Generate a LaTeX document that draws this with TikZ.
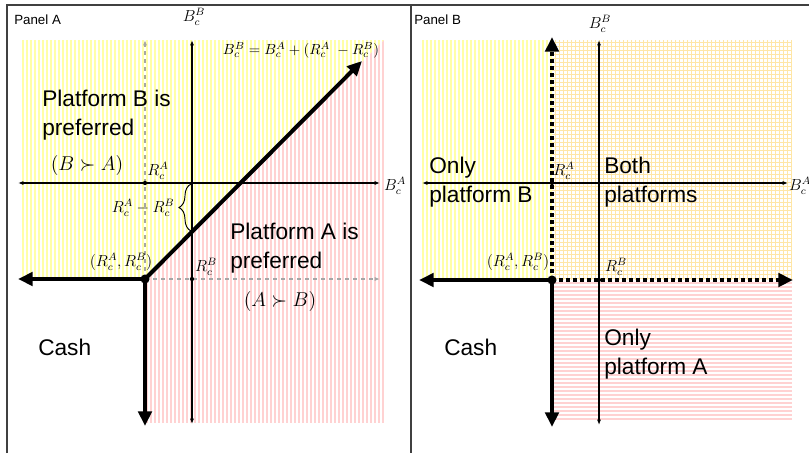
\RequirePackage{fix-cm}
\documentclass[tikz,border=0pt]{standalone}
\usepackage{amsmath, amssymb}
\usepackage{fontspec}
\setmainfont{Liberation Sans}
\usetikzlibrary{arrows.meta, decorations.pathreplacing}
\definecolor{mYellow}{HTML}{FFFFA8}
\definecolor{mPink}{HTML}{FFD2D2}
\definecolor{mGold}{HTML}{FFE6A6}
\definecolor{mGray}{HTML}{A6A6A6}
\definecolor{mFrame}{HTML}{404040}

\begin{document}
\begin{tikzpicture}[x=0.75pt, y=-0.75pt,
    ystripe/.style={mYellow, line width=1.3pt},
    pstripe/.style={mPink, line width=1.1pt},
    gstripe/.style={mGold, line width=0.7pt},
    axisline/.style={line width=0.8pt, {Latex[length=4pt,width=3pt]}-{Latex[length=4pt,width=3pt]}},
    guide/.style={mGray, line width=0.8pt, dashed, -{Latex[length=4pt,width=3pt]}},
    thickarrow/.style={line width=3pt, -{Triangle[length=11pt,width=10pt]}},
    dotarrow/.style={line width=3pt, dash pattern=on 3pt off 2.25pt, -{Triangle[length=11pt,width=10pt]}},
    frame/.style={mFrame, line width=1.2pt},
    lbl/.style={font=\fontsize{12}{14}\selectfont, inner sep=1pt},
    regiontxt/.style={font=\fontsize{17}{22}\selectfont, align=left, inner sep=0pt, anchor=west},
    prefmath/.style={font=\fontsize{15}{17}\selectfont, inner sep=0pt},
    paneltxt/.style={font=\fontsize{10}{12}\selectfont, inner sep=0pt, anchor=west}]
  \useasboundingbox (0,0) rectangle (809,453);

  % ---------------- Panel A ----------------
  \begin{scope}
    \clip (22,40) -- (384,40) -- (145,279) -- (22,279) -- cycle;
    \foreach \x in {23,27,...,383} \draw[ystripe] (\x,40) -- (\x,279);
  \end{scope}
  \begin{scope}
    \clip (145,279) -- (384,40) -- (384,423) -- (145,423) -- cycle;
    \foreach \x in {23,27,...,383} \draw[pstripe] (\x,40) -- (\x,423);
  \end{scope}

  \coordinate (kinkA) at (145,279);
  \coordinate (axAw) at (18,183);
  \coordinate (axAe) at (380,183);
  \coordinate (axAn) at (192,40);
  \coordinate (axAs) at (192,424);
  \coordinate (guideAn) at (145,40);
  \coordinate (guideAe) at (380,279);
  \coordinate (diagA) at (362,61);
  \coordinate (cashAw) at (18,279);
  \coordinate (cashAs) at (145,426);
  \coordinate (raA) at (145,183);
  \coordinate (rbA) at (192,279);
  \coordinate (braceTop) at (191,184);
  \coordinate (braceBot) at (191,231);

  \draw[guide] (kinkA) -- (guideAn);
  \draw[guide] (kinkA) -- (guideAe);
  \draw[axisline] (axAw) -- (axAe);
  \draw[axisline] (axAs) -- (axAn);
  \draw[decorate, decoration={brace, amplitude=9pt}, line width=0.7pt] (braceBot) -- (braceTop);
  \draw[thickarrow] (kinkA) -- (diagA);
  \draw[thickarrow] (kinkA) -- (cashAw);
  \draw[thickarrow] (kinkA) -- (cashAs);
  \fill (raA) circle (1.6pt);
  \fill (rbA) circle (1.6pt);
  \fill (kinkA) circle (3.4pt);

  \node[paneltxt] (panelA) at (14,20) {Panel A};
  \node[lbl] (axAylbl) at (194,17) {$B_c^B$};
  \node[lbl] (axAxlbl) at (395,186) {$B_c^A$};
  \node[font=\fontsize{11}{13}\selectfont] (lineA) at (301,50) {$B_c^B = B_c^A + (R_c^A\ - R_c^B)$};
  \node[lbl] (raAlbl) at (158,171) {$R_c^A$};
  \node[lbl] (rbAlbl) at (206,267) {$R_c^B$};
  \node[lbl] (kinkAlbl) at (121,262) {$(R_c^A,R_c^B)$};
  \node[lbl, anchor=east] (gapA) at (176,208) {$R_c^A - R_c^B$};
  \node[regiontxt] (prefB) at (42,115) {Platform B is\\preferred};
  \node[prefmath] (succB) at (87,165) {$(B \succ A)$};
  \node[regiontxt] (prefA) at (230,248) {Platform A is\\preferred};
  \node[prefmath] (succA) at (280,301) {$(A \succ B)$};
  \node[regiontxt] (cashA) at (38,347) {Cash};

  % ---------------- Panel B ----------------
  \foreach \x in {423,427,...,551} \draw[ystripe] (\x,40) -- (\x,280);
  \foreach \x in {555,559,...,791} \draw[gstripe] (\x,40) -- (\x,280);
  \foreach \y in {42,46,...,278} \draw[gstripe] (552,\y) -- (792,\y);
  \foreach \y in {283,287,...,421} \draw[pstripe] (554,\y) -- (792,\y);

  \coordinate (kinkB) at (552,280);
  \coordinate (axBw) at (422,183);
  \coordinate (axBe) at (788,183);
  \coordinate (axBn) at (599,40);
  \coordinate (axBs) at (599,425);
  \coordinate (onlyBn) at (552,37);
  \coordinate (onlyAe) at (793,280);
  \coordinate (cashBw) at (419,280);
  \coordinate (cashBs) at (552,427);
  \coordinate (raB) at (552,183);
  \coordinate (rbB) at (599,280);

  \draw[axisline] (axBw) -- (axBe);
  \draw[axisline] (axBs) -- (axBn);
  \draw[dotarrow] (kinkB) -- (onlyBn);
  \draw[dotarrow] (kinkB) -- (onlyAe);
  \draw[thickarrow] (kinkB) -- (cashBw);
  \draw[thickarrow] (kinkB) -- (cashBs);
  \fill (raB) circle (1.6pt);
  \fill (rbB) circle (1.6pt);
  \fill (kinkB) circle (3.4pt);

  \node[paneltxt] (panelB) at (414,20) {Panel B};
  \node[lbl] (axBylbl) at (600,24) {$B_c^B$};
  \node[lbl] (axBxlbl) at (800,186) {$B_c^A$};
  \node[lbl] (raBlbl) at (564,171) {$R_c^A$};
  \node[lbl] (rbBlbl) at (616,267) {$R_c^B$};
  \node[lbl] (kinkBlbl) at (518,262) {$(R_c^A,R_c^B)$};
  \node[regiontxt] (onlyB) at (429,182) {Only\\platform B};
  \node[regiontxt] (both) at (604,182) {Both\\platforms};
  \node[regiontxt] (onlyA) at (604,354) {Only\\platform A};
  \node[regiontxt] (cashB) at (444,347) {Cash};

  % frame
  \draw[frame] (7,453) -- (7,5) -- (809,5);
  \draw[frame] (411,5) -- (411,453);
\end{tikzpicture}
\end{document}
